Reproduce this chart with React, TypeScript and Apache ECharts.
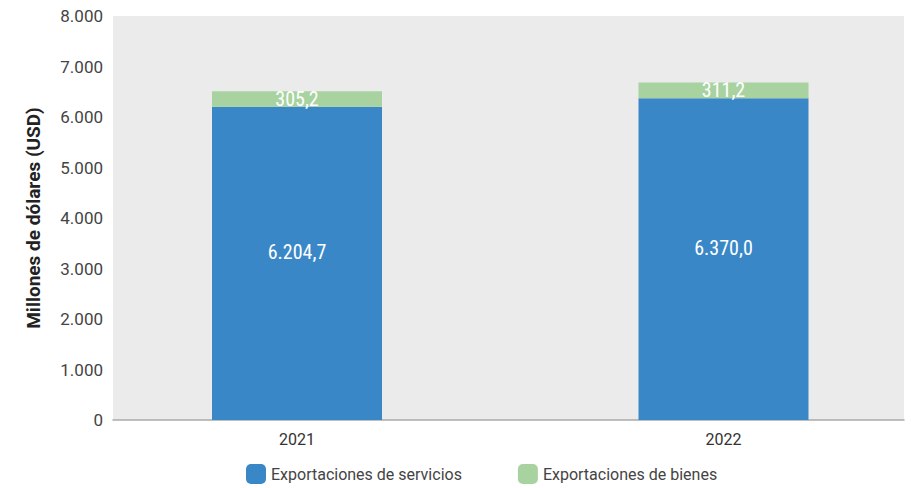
import React, { useEffect, useRef } from "react";
import * as echarts from "echarts";

const years = ["2021", "2022"];
const servicios = [6204.7, 6370.0];
const bienes = [305.2, 311.2];
const seriesNames = ["Exportaciones de servicios", "Exportaciones de bienes"];
const yTitle = "Millones de dólares (USD)";

function fmt(v: number, dec: number): string {
  const s = v.toFixed(dec);
  const [ip, dp] = s.split(".");
  const withSep = ip.replace(/\B(?=(\d{3})+(?!\d))/g, ".");
  return dp !== undefined ? withSep + "," + dp : withSep;
}

export default function App() {
  const ref = useRef<HTMLDivElement>(null);
  useEffect(() => {
    if (!ref.current) return;
    const chart = echarts.init(ref.current, null, { renderer: "svg" });
    const top = 16;
    const bottom = 488 - 420;
    const labelFont = "'Liberation Sans Narrow', 'Roboto Condensed', 'DejaVu Sans Condensed', sans-serif";
    chart.setOption({
      animation: false,
      textStyle: { fontFamily: "Roboto, 'Noto Sans', sans-serif" },
      grid: [
        { left: 113, right: 7, top, bottom, show: true, backgroundColor: "#ebebeb", borderWidth: 0 },
        { left: 297, right: 911 - 723.5, top, bottom, show: false },
      ],
      legend: {
        data: seriesNames,
        left: 241,
        top: 459,
        itemWidth: 20,
        itemHeight: 20,
        itemGap: 56,
        icon: "roundRect",
        textStyle: { fontSize: 16, color: "#444", fontFamily: "Roboto, sans-serif" },
      },
      xAxis: [
        {
          type: "category",
          gridIndex: 0,
          data: years,
          axisLine: { show: true, lineStyle: { color: "#aaaaaa", width: 1.5 } },
          axisTick: { show: false },
          axisLabel: { show: false },
        },
        {
          type: "category",
          gridIndex: 1,
          data: years,
          boundaryGap: false,
          axisLine: { show: false },
          axisTick: { show: false },
          axisLabel: { color: "#333", fontSize: 16, margin: 11 },
        },
      ],
      yAxis: [
        {
          type: "value",
          gridIndex: 0,
          min: 0,
          max: 8000,
          interval: 1000,
          splitLine: { show: false },
          axisLine: { show: false },
          axisTick: { show: false },
          axisLabel: { color: "#444", fontSize: 17, margin: 10, formatter: (v: number) => fmt(v, 0) },
          name: yTitle,
          nameLocation: "middle",
          nameGap: 70,
          nameTextStyle: { fontSize: 19, fontWeight: "bold", color: "#222" },
        },
        {
          type: "value",
          gridIndex: 1,
          min: 0,
          max: 8000,
          interval: 1000,
          show: false,
        },
      ],
      series: [
        {
          name: seriesNames[0],
          type: "bar",
          stack: "total",
          xAxisIndex: 1,
          yAxisIndex: 1,
          data: servicios,
          barWidth: 170,
          clip: false,
          itemStyle: { color: "#3a87c8" },
          label: {
            show: true,
            position: "inside",
            offset: [0, -11],
            color: "#ffffff",
            fontSize: 20,
            fontFamily: labelFont,
            formatter: (p: any) => fmt(p.value, 1),
          },
        },
        {
          name: seriesNames[1],
          type: "bar",
          stack: "total",
          xAxisIndex: 1,
          yAxisIndex: 1,
          data: bienes,
          barWidth: 170,
          clip: false,
          itemStyle: { color: "#a8d3a0" },
          label: {
            show: true,
            position: "inside",
            color: "#ffffff",
            fontSize: 20,
            fontFamily: labelFont,
            formatter: (p: any) => fmt(p.value, 1),
          },
        },
      ],
    });
    return () => chart.dispose();
  }, []);
  return <div ref={ref} style={{ width: 911, height: 488, position: "absolute", left: 0, top: 0 }} />;
}
